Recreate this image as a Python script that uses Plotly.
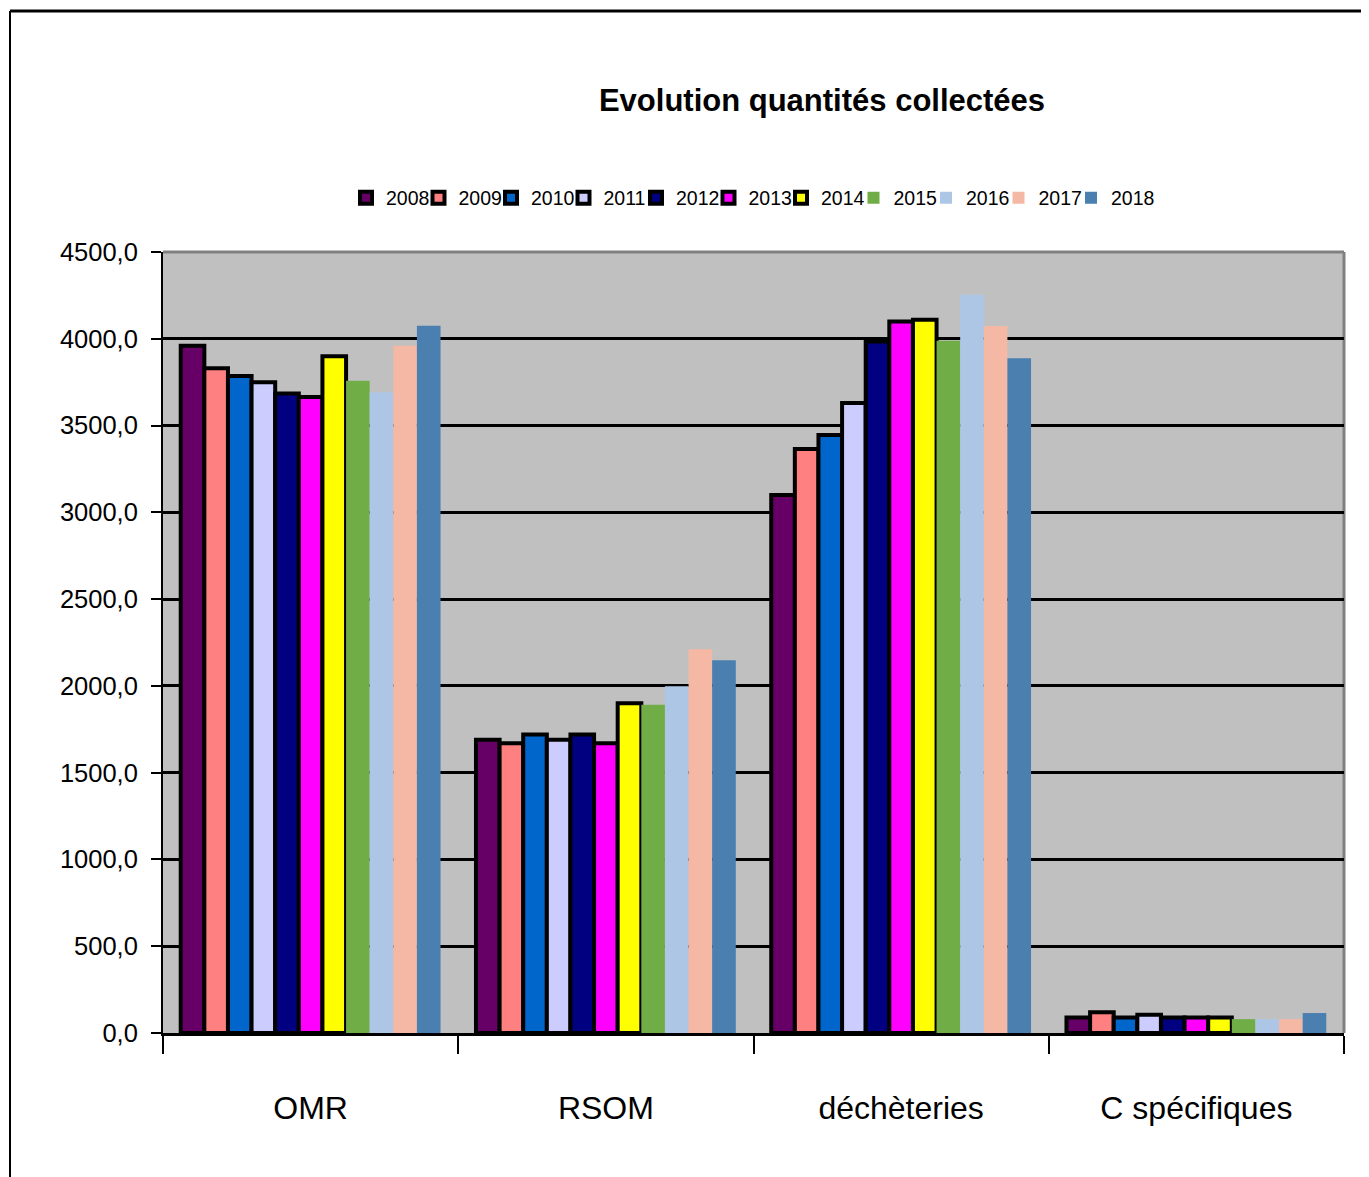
import plotly.graph_objects as go

categories = ["OMR", "RSOM", "déchèteries", "C spécifiques"]
years = ["2008", "2009", "2010", "2011", "2012", "2013", "2014", "2015", "2016", "2017", "2018"]
v2008 = [3960, 1690, 3100, 90]
v2009 = [3830, 1670, 3365, 120]
v2010 = [3785, 1720, 3445, 90]
v2011 = [3750, 1690, 3630, 105]
v2012 = [3685, 1720, 3985, 90]
v2013 = [3665, 1670, 4100, 90]
v2014 = [3900, 1900, 4110, 90]
v2015 = [3758, 1892, 3988, 80]
v2016 = [3692, 1998, 4254, 80]
v2017 = [3960, 2211, 4073, 80]
v2018 = [4075, 2148, 3888, 115]
series = [v2008, v2009, v2010, v2011, v2012, v2013, v2014, v2015, v2016, v2017, v2018]
colors = ["#660066", "#FF8080", "#0066CC", "#CCCCFF", "#000080", "#FF00FF", "#FFFF00",
          "#70AD47", "#AEC6E6", "#F4B8A4", "#4A7FB0"]
outlined = [True, True, True, True, True, True, True, False, False, False, False]
ytickvals = [0, 500, 1000, 1500, 2000, 2500, 3000, 3500, 4000, 4500]
yticktext = ["0,0", "500,0", "1000,0", "1500,0", "2000,0", "2500,0", "3000,0", "3500,0", "4000,0", "4500,0"]

FONT = "Liberation Sans, Arial, sans-serif"

fig = go.Figure()
for y, vals, c, o in zip(years, series, colors, outlined):
    fig.add_trace(go.Bar(
        name=y, x=categories, y=vals,
        marker=dict(color=c, line=dict(color="black", width=4 if o else 0)),
    ))
# empty spacer legend entry so that the last real legend label is not clipped
fig.add_trace(go.Scatter(x=[None], y=[None], mode="markers", name="",
                         marker=dict(color="rgba(0,0,0,0)"), hoverinfo="skip"))

OFF = 8  # page body margin
W, H = 1369 - OFF, 1177 - OFF
L, T = 163 - OFF, 252 - OFF
R = W - (1344 - OFF)
B = H - (1033 - OFF)
pw = W - L - R
ph = H - T - B

def px(x):
    return (x - OFF - L) / pw

def py(y):
    return (H - B - (y - OFF)) / ph

fig.update_layout(
    width=W, height=H,
    margin=dict(l=L, r=R, t=T, b=B),
    paper_bgcolor="white",
    plot_bgcolor="#C0C0C0",
    barmode="group",
    bargap=0.12,
    bargroupgap=0,
    font=dict(family=FONT, color="black"),
    title=dict(text="<b>Evolution quantités collectées</b>", x=px(822), xref="paper", xanchor="center",
               y=1 - (100 - OFF) / H, yref="container", yanchor="middle",
               font=dict(size=31, family=FONT, color="black")),
    legend=dict(orientation="h", x=px(346), xanchor="left", y=py(198), yanchor="middle",
                font=dict(size=19.5, family=FONT), itemwidth=30, entrywidth=27.5,
                entrywidthmode="pixels", traceorder="normal",
                bgcolor="rgba(0,0,0,0)"),
    showlegend=True,
)
fig.update_xaxes(
    type="category", tickson="boundaries", ticks="outside", ticklen=18, tickwidth=2,
    tickcolor="black", showline=True, linecolor="black", linewidth=3,
    tickfont=dict(size=32, family=FONT), ticklabelstandoff=45, showgrid=False,
)
fig.update_yaxes(
    range=[0, 4500], tickvals=ytickvals, ticktext=yticktext, ticks="outside", ticklen=10,
    tickwidth=2, tickcolor="black", showline=True, linecolor="black", linewidth=2,
    showgrid=True, gridcolor="black", gridwidth=3, zeroline=False,
    tickfont=dict(size=25.5, family=FONT), ticklabelstandoff=8,
)
# plot-area grey border (top and right)
fig.add_shape(type="line", xref="paper", yref="paper", x0=0, x1=1, y0=1, y1=1,
              line=dict(color="#808080", width=3), layer="below")
fig.add_shape(type="line", xref="paper", yref="paper", x0=1, x1=1, y0=0, y1=1,
              line=dict(color="#808080", width=3), layer="below")
# outer frame: left and top edges only
fig.add_shape(type="line", xref="paper", yref="paper",
              x0=px(10), x1=px(10), y0=py(1200), y1=py(11),
              line=dict(color="black", width=2))
fig.add_shape(type="line", xref="paper", yref="paper",
              x0=px(10), x1=px(1400), y0=py(11), y1=py(11),
              line=dict(color="black", width=3))

fig.write_html("out.html")
